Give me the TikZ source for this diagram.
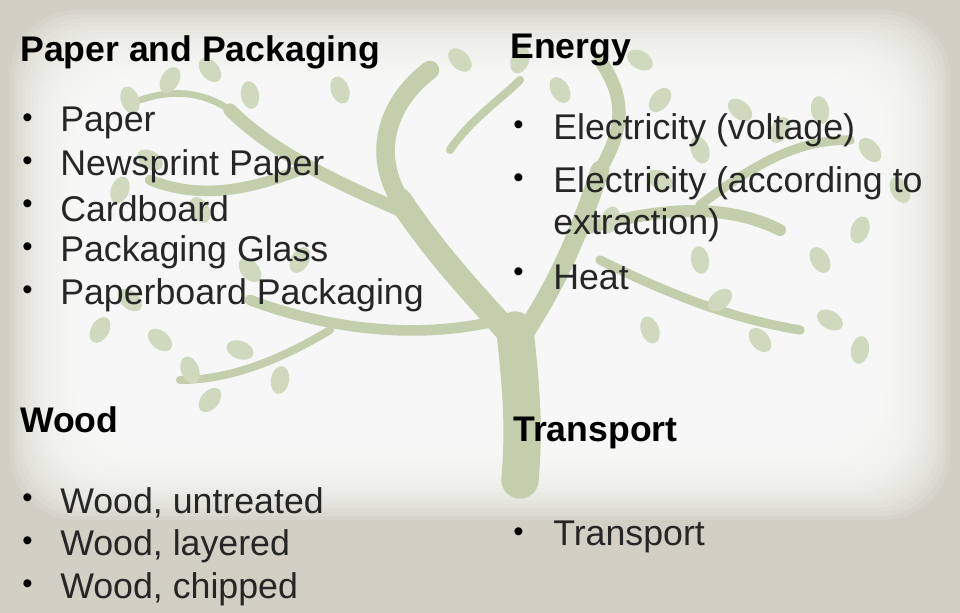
\documentclass[tikz,border=0pt]{standalone}
\usepackage{fontspec}
\setmainfont{Liberation Sans}
\begin{document}
\begin{tikzpicture}[x=0.75pt,y=-0.75pt,
  head/.style={anchor=west,font=\bfseries\fontsize{26.7}{30}\selectfont,inner sep=0},
  item/.style={anchor=west,font=\fontsize{26.8}{30}\selectfont,inner sep=0,text=black!85},
  bul/.style={anchor=west,font=\fontsize{22}{25}\selectfont,inner sep=0},
  branch/.style={draw=treeg,line cap=round,line join=round},
  leaf/.style={fill=treeg!80,draw=none}]
\definecolor{bgc}{HTML}{D2D0C4}
\definecolor{treeg}{HTML}{C3CFAC}
\useasboundingbox (0,0) rectangle (960,613);
\fill[bgc] (0,0) rectangle (960,613);
\foreach \i in {0,...,19}{
  \fill[white,opacity=0.12,rounded corners=50] (10+4*\i,10+4*\i) rectangle (950-4*\i,520-4*\i);
}
% tree
\begin{scope}
\draw[branch,line width=28] (520,480) .. controls (525,420) and (520,380) .. (515,330);
\draw[branch,line width=18] (515,340) .. controls (480,300) and (440,260) .. (400,200);
\draw[branch,line width=14] (400,200) .. controls (370,150) and (390,100) .. (430,70);
\draw[branch,line width=10] (400,210) .. controls (330,180) and (270,150) .. (230,110);
\draw[branch,line width=8] (300,170) .. controls (250,190) and (200,200) .. (150,180);
\draw[branch,line width=14] (520,340) .. controls (560,280) and (580,230) .. (600,170);
\draw[branch,line width=10] (600,170) .. controls (630,120) and (620,90) .. (600,60);
\draw[branch,line width=9] (580,230) .. controls (650,210) and (720,200) .. (780,230);
\draw[branch,line width=7] (700,205) .. controls (760,160) and (800,140) .. (850,140);
\draw[branch,line width=7] (600,260) .. controls (680,300) and (740,320) .. (800,330);
\draw[branch,line width=8] (500,320) .. controls (420,340) and (330,330) .. (250,300);
\draw[branch,line width=6] (330,330) .. controls (280,360) and (230,380) .. (180,380);
\draw[branch,line width=6] (450,150) .. controls (470,120) and (500,100) .. (520,80);
\draw[branch,line width=5] (230,110) .. controls (200,90) and (170,90) .. (140,100);
\foreach \p/\a in {(130,100)/20,(170,80)/-30,(210,70)/40,(250,95)/10,(150,160)/60,(120,190)/-20,
  (200,210)/30,(160,340)/50,(210,400)/-40,(190,370)/20,(240,350)/70,(280,380)/-10,(250,270)/40,
  (300,260)/-30,(340,90)/20,(460,60)/45,(520,60)/-20,(560,90)/30,(640,60)/60,(660,100)/-40,
  (700,150)/20,(740,110)/50,(780,130)/-30,(820,110)/10,(870,150)/40,(860,230)/-20,(820,260)/30,
  (830,320)/60,(860,350)/-10,(760,340)/40,(720,300)/-50,(650,330)/20,(700,260)/10,(900,190)/30,
  (100,330)/-30,(130,300)/50,(610,220)/-20,(660,180)/60}
  \fill[leaf,rotate around={\a:\p}] \p ellipse (9 and 14);
\end{scope}
% text
\node[head] (h1) at (20,52) {Paper and Packaging};
\node[head] (h2) at (510,50) {Energy};
\node[head] (h3) at (20,420) {Wood};
\node[head] (h4) at (513,433) {Transport};
\foreach \t [count=\i] in {Paper,Newsprint Paper,Cardboard,Packaging Glass,Paperboard Packaging}{
  \node[bul] (b1\i) at (22,78+43*\i) {•};
  \node[item] (t1\i) at (60,80+43*\i) {\t};
}
\node[bul] (b21) at (513,128) {•};
\node[item] (t21) at (553,130) {Electricity (voltage)};
\node[bul] (b22) at (513,181) {•};
\node[item] (t22) at (553,183) {Electricity (according to};
\node[item] (t22b) at (553,225) {extraction)};
\node[bul] (b23) at (513,275) {•};
\node[item] (t23) at (553,277) {Heat};
\foreach \t [count=\i] in {{Wood, untreated},{Wood, layered},{Wood, chipped}}{
  \node[bul] (b3\i) at (22,458+43*\i) {•};
  \node[item] (t3\i) at (60,460+43*\i) {\t};
}
\node[bul] (b41) at (513,535) {•};
\node[item] (t41) at (553,537) {Transport};
\end{tikzpicture}
\end{document}
